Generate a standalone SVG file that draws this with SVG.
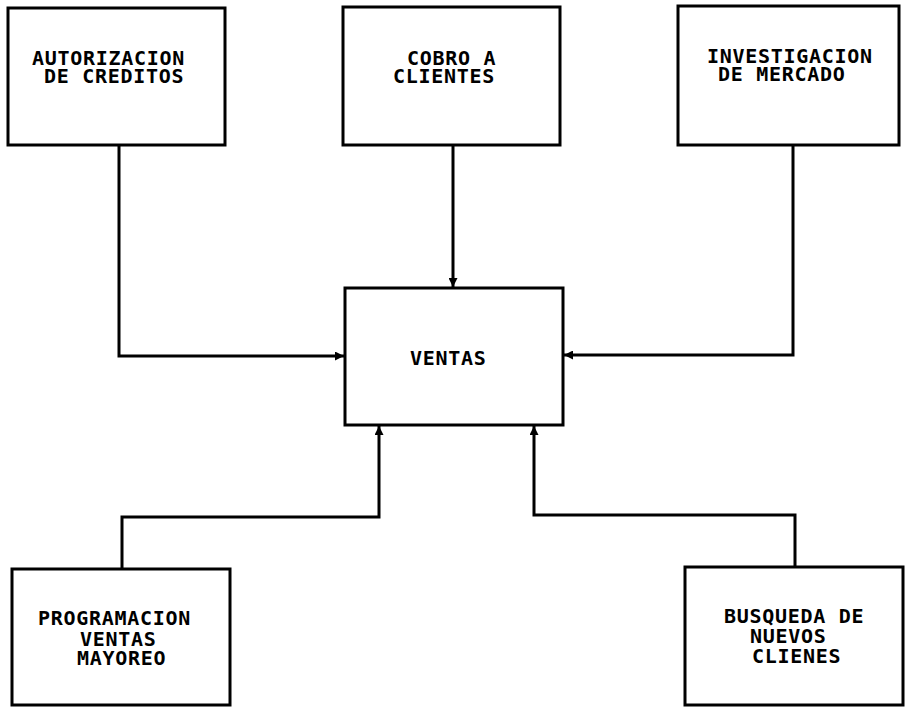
<svg xmlns="http://www.w3.org/2000/svg" width="907" height="708" viewBox="0 0 907 708">
  <style>
    .box { fill: #ffffff; stroke: #000000; stroke-width: 3; }
    .lbl { font-family: "DejaVu Sans Mono", "Liberation Mono", monospace; font-weight: bold; font-size: 20px; letter-spacing: 0.7px; fill: #000000; }
    .wire { fill: none; stroke: #000000; stroke-width: 3; stroke-linejoin: miter; }
  </style>
  <defs>
    <marker id="arrow" markerUnits="userSpaceOnUse" markerWidth="9" markerHeight="9" viewBox="0 0 9 9" refX="9" refY="4.5" orient="auto">
      <path d="M0,0 L9,4.5 L0,9 Z" fill="#000000"/>
    </marker>
  </defs>
  <rect width="907" height="708" fill="#ffffff"/>

  <!-- feeder lines into the central box -->
  <g id="connectors">
    <path class="wire" d="M119,145 V356 H344" marker-end="url(#arrow)"/>
    <path class="wire" d="M453,145 V287" marker-end="url(#arrow)"/>
    <path class="wire" d="M793,145 V355 H564" marker-end="url(#arrow)"/>
    <path class="wire" d="M122,569 V517 H379 V426" marker-end="url(#arrow)"/>
    <path class="wire" d="M795,567 V515 H534 V426" marker-end="url(#arrow)"/>
  </g>

  <g id="autorizacion">
    <rect class="box" x="8" y="8" width="217" height="137"/>
    <text class="lbl" x="32" y="65">AUTORIZACION</text>
    <text class="lbl" x="44" y="83">DE CREDITOS</text>
  </g>

  <g id="cobro">
    <rect class="box" x="343" y="7" width="217" height="138"/>
    <text class="lbl" x="407" y="65">COBRO A</text>
    <text class="lbl" x="393" y="83">CLIENTES</text>
  </g>

  <g id="investigacion">
    <rect class="box" x="678" y="6" width="221" height="139"/>
    <text class="lbl" x="707" y="63">INVESTIGACION</text>
    <text class="lbl" x="718" y="81">DE MERCADO</text>
  </g>

  <g id="ventas">
    <rect class="box" x="345" y="288" width="218" height="137"/>
    <text class="lbl" x="410" y="365">VENTAS</text>
  </g>

  <g id="programacion">
    <rect class="box" x="12" y="569" width="218" height="136"/>
    <text class="lbl" x="38" y="625">PROGRAMACION</text>
    <text class="lbl" x="80" y="646">VENTAS</text>
    <text class="lbl" x="77" y="665">MAYOREO</text>
  </g>

  <g id="busqueda">
    <rect class="box" x="685" y="567" width="218" height="138"/>
    <text class="lbl" x="724" y="623">BUSQUEDA DE</text>
    <text class="lbl" x="750" y="643">NUEVOS</text>
    <text class="lbl" x="752" y="663">CLIENES</text>
  </g>
</svg>
